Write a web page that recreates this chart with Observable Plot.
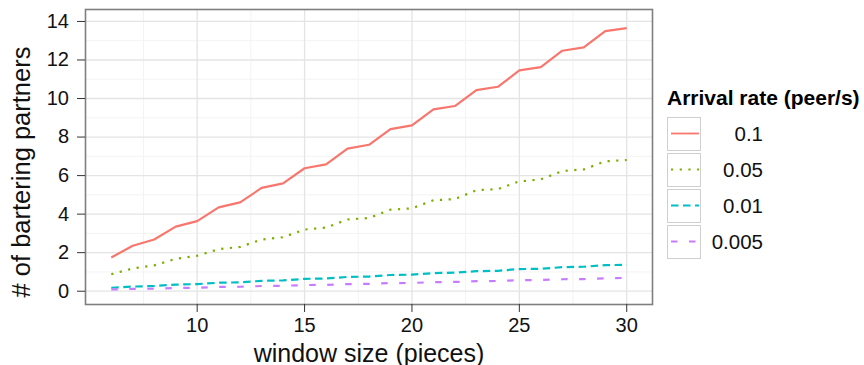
<!DOCTYPE html>
<html>
<head>
<meta charset="utf-8">
<script src="https://cdn.jsdelivr.net/npm/d3@7"></script>
<script src="https://cdn.jsdelivr.net/npm/@observablehq/plot@0.6"></script>
<style>
  html, body { margin: 0; padding: 0; background: #fff; }
  #wrap { position: relative; width: 864px; height: 365px; font-family: "Liberation Sans", Arial, sans-serif; }
  #legend { position: absolute; left: 667px; top: 86px; }
  #legend .title { font-weight: bold; font-size: 21px; color: #000; white-space: nowrap; line-height: 24px; height: 30px; }
  #legend .row { display: flex; align-items: center; height: 36px; }
  #legend .key { width: 34px; height: 34px; border: 1.5px solid #cfcfcf; box-sizing: border-box; margin-top: -1px; background: #fff; }
  #legend .lab { width: 62px; text-align: right; font-size: 20.5px; color: #111; }
</style>
</head>
<body>
<div id="wrap"><div id="chart"></div><div id="legend"></div></div>
<script>
// window size (pieces)
const windowSize = [6,7,8,9,10,11,12,13,14,15,16,17,18,19,20,21,22,23,24,25,26,27,28,29,30];
// # of bartering partners per arrival rate
const rate0_1   = [1.75,2.36,2.68,3.35,3.64,4.35,4.61,5.36,5.60,6.38,6.58,7.40,7.60,8.41,8.61,9.44,9.61,10.44,10.61,11.46,11.63,12.48,12.65,13.50,13.65];
const rate0_05  = [0.88,1.18,1.34,1.68,1.84,2.18,2.30,2.68,2.80,3.20,3.30,3.72,3.80,4.23,4.30,4.72,4.78,5.24,5.30,5.70,5.80,6.24,6.32,6.74,6.81];
const rate0_01  = [0.18,0.24,0.27,0.34,0.37,0.44,0.46,0.54,0.56,0.64,0.66,0.74,0.76,0.84,0.86,0.94,0.96,1.04,1.06,1.15,1.16,1.25,1.27,1.35,1.37];
const rate0_005 = [0.09,0.12,0.13,0.17,0.18,0.22,0.23,0.27,0.28,0.32,0.33,0.37,0.38,0.42,0.43,0.47,0.48,0.52,0.53,0.57,0.58,0.62,0.63,0.67,0.69];
const seriesNames = ["0.1","0.05","0.01","0.005"];
const xTicks = [10,15,20,25,30];
const yTicks = [0,2,4,6,8,10,12,14];
const xMinor = [7.5,12.5,17.5,22.5,27.5];
const yMinor = [1,3,5,7,9,11,13];

const colors = ["#F8766D","#7CAE00","#00BFC4","#C77CFF"];
const dashes = [null, "2.2,6.5", "7.5,4.5", "6.5,11.5"];
const allVals = [rate0_1, rate0_05, rate0_01, rate0_005];
const series = seriesNames.map((name, i) => windowSize.map((w, j) => ({w, v: allVals[i][j], name})));

const lineMarks = series.map((d, i) => Plot.line(d, {
  x: "w", y: "v", stroke: colors[i], strokeWidth: 2.2,
  strokeDasharray: dashes[i] || undefined, strokeLinecap: "butt", strokeLinejoin: "round"
}));

const chart = Plot.plot({
  width: 864, height: 365,
  marginLeft: 85, marginRight: 212, marginTop: 9, marginBottom: 61,
  style: { fontFamily: "Liberation Sans, Arial, sans-serif", fontSize: "20px", color: "#111", background: "#fff" },
  x: { domain: [4.8, 31.2] },
  y: { domain: [-0.69, 14.62] },
  marks: [
    Plot.ruleX(xMinor, { stroke: "#f3f3f3", strokeWidth: 1 }),
    Plot.ruleY(yMinor, { stroke: "#f3f3f3", strokeWidth: 1 }),
    Plot.ruleX(xTicks, { stroke: "#e4e4e4", strokeWidth: 1.3 }),
    Plot.ruleY(yTicks, { stroke: "#e4e4e4", strokeWidth: 1.3 }),
    ...lineMarks,
    Plot.frame({ stroke: "#7f7f7f", strokeWidth: 1.6 }),
    Plot.axisX({ ticks: xTicks, tickSize: 8, tickPadding: 5, label: null, stroke: "#333", fontSize: 20 }),
    Plot.axisY({ ticks: yTicks, tickSize: 8, tickPadding: 8.5, label: null, stroke: "#333", fontSize: 20 }),
    Plot.text(["window size (pieces)"], { frameAnchor: "bottom", textAnchor: "middle", lineAnchor: "middle", dy: 49, fontSize: 25, fill: "#111" }),
    Plot.text(["# of bartering partners"], { frameAnchor: "left", textAnchor: "middle", lineAnchor: "middle", rotate: -90, dx: -64, dy: 15, fontSize: 25.5, fill: "#111" })
  ]
});
document.getElementById("chart").appendChild(chart);

// legend
const legend = document.getElementById("legend");
const title = document.createElement("div");
title.className = "title";
title.textContent = "Arrival rate (peer/s)";
legend.appendChild(title);
seriesNames.forEach((name, i) => {
  const row = document.createElement("div");
  row.className = "row";
  const key = document.createElement("div");
  key.className = "key";
  key.innerHTML = `<svg width="31" height="31" style="display:block"><line x1="3" x2="31" y1="15.5" y2="15.5" stroke="${colors[i]}" stroke-width="1.8" ${dashes[i] ? `stroke-dasharray="${dashes[i]}"` : ""}/></svg>`;
  const lab = document.createElement("div");
  lab.className = "lab";
  lab.textContent = name;
  row.appendChild(key);
  row.appendChild(lab);
  legend.appendChild(row);
});
</script>
</body>
</html>
